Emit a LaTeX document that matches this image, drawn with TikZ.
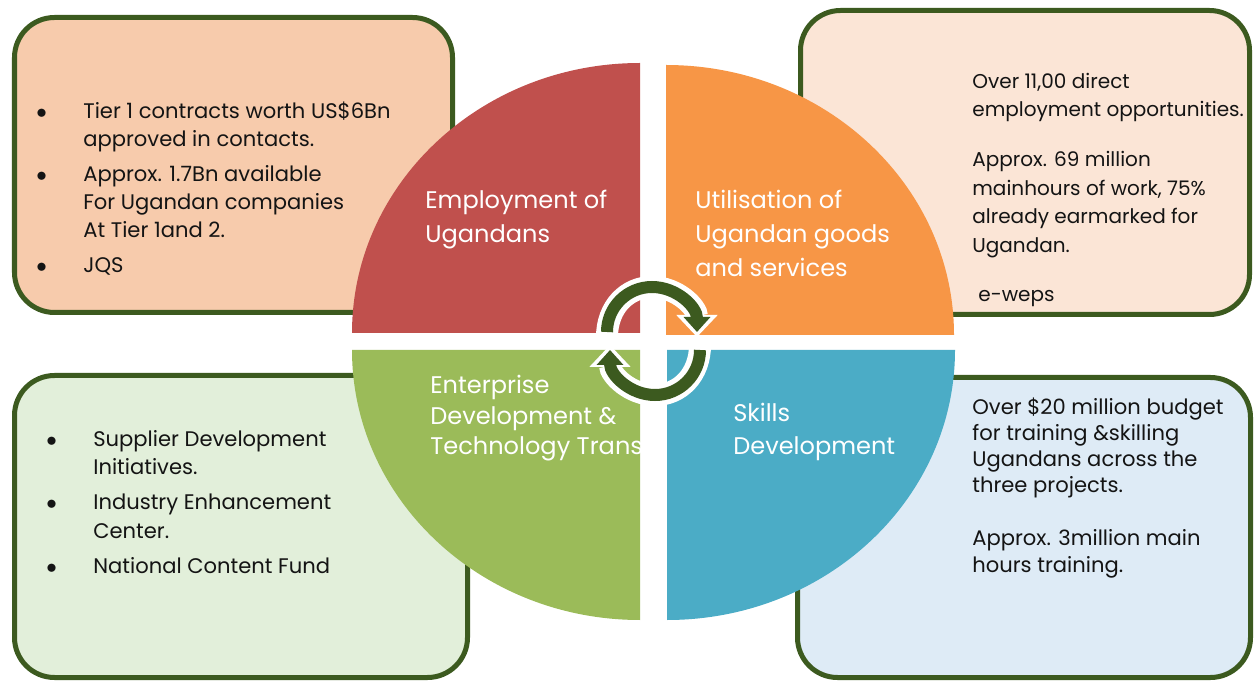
\documentclass[tikz,border=0pt]{standalone}
\usepackage{fontspec}
\setmainfont{Poppins}
\usepackage{xcolor}
\usepackage{tikz}
\usetikzlibrary{arrows.meta}
\definecolor{QuadRed}{HTML}{C0504D}
\definecolor{QuadOrange}{HTML}{F79646}
\definecolor{QuadGreen}{HTML}{9BBB59}
\definecolor{QuadBlue}{HTML}{4BACC6}
\definecolor{BoxPeach}{HTML}{F7CBAC}
\definecolor{BoxCream}{HTML}{FBE5D6}
\definecolor{BoxMint}{HTML}{E2EFDA}
\definecolor{BoxSky}{HTML}{DEEBF6}
\definecolor{FrameGreen}{HTML}{3C5A1F}
\definecolor{TextDark}{HTML}{141414}

% bullet line and its indented continuation
\newcommand{\bulitem}[1]{\makebox[0.94cm][l]{$\bullet$}#1}
\newcommand{\bulmore}[1]{\hspace*{0.94cm}#1}

\begin{document}
\begin{tikzpicture}[every node/.style={font=\fontsize{12}{15.9}\selectfont,
          text=TextDark, inner sep=0pt},
          panel/.style={draw=FrameGreen, line width=0.1cm, rounded corners=0.8cm},
          notes/.style={align=left, anchor=base west},
          quadlabel/.style={text=white, align=left, anchor=base west},
          cyc/.style={line width=0.24cm, FrameGreen,
            -{Triangle[length=0.3cm,width=0.52cm]}},
          cycrim/.style={line width=0.44cm, white,
            -{Triangle[length=0.44cm,width=0.8cm]},
            shorten >=-0.1cm, shorten <=-0.1cm}]
        \fill[white] (0,0) rectangle (25.08,-13.66);
        \useasboundingbox (0,0) rectangle (25.08,-13.66);

        % the four framed panels
        \node[panel, fill=BoxPeach, minimum width=8.76cm, minimum height=5.9cm]
        (pnlEmploy) at (4.67,-3.30) {};
        \node[panel, fill=BoxCream, minimum width=8.98cm, minimum height=6.08cm]
        (pnlGoods) at (20.50,-3.25) {};
        \node[panel, fill=BoxMint, minimum width=9.06cm, minimum height=6.04cm]
        (pnlEnterprise) at (4.82,-10.53) {};
        \node[panel, fill=BoxSky, minimum width=9.06cm, minimum height=6.0cm]
        (pnlSkills) at (20.48,-10.55) {};

        % quarter wheel
        \fill[QuadRed] (12.8,-6.66) -- ++(-5.76,0)
          arc[start angle=180, end angle=90, x radius=5.76cm, y radius=5.4cm] -- cycle;
        \fill[QuadOrange] (13.32,-6.70) -- ++(0,5.4)
          arc[start angle=90, end angle=0, x radius=5.76cm, y radius=5.4cm] -- cycle;
        \fill[QuadGreen] (12.8,-7.0) -- ++(-5.76,0)
          arc[start angle=180, end angle=270, x radius=5.76cm, y radius=5.4cm] -- cycle;
        \fill[QuadBlue] (13.34,-7.0) -- ++(5.76,0)
          arc[start angle=0, end angle=-90, x radius=5.76cm, y radius=5.4cm] -- cycle;

        % labels sit on the baseline of their last line
        \node[quadlabel, font=\fontsize{13.7}{19.9}\selectfont]
        (lblEmploy) at (8.5,-4.86) {Employment of\\Ugandans};
        \node[quadlabel, font=\fontsize{13.7}{19.6}\selectfont]
        (lblGoods) at (13.9,-5.54) {Utilisation of\\Ugandan goods\\and services};
        \begin{scope}
          \clip (12.8,-7.0) -- ++(-5.76,0)
            arc[start angle=180, end angle=270, x radius=5.76cm, y radius=5.4cm] -- cycle;
          \node[quadlabel, font=\fontsize{13.7}{17.6}\selectfont]
          (lblEnterprise) at (8.6,-9.10)
          {Enterprise\\Development \&\\Technology Transfer};
        \end{scope}
        \node[quadlabel, font=\fontsize{13.7}{18.8}\selectfont]
        (lblSkills) at (14.66,-9.10) {Skills\\Development};

        % panel texts
        \node[notes] (txtEmploy) at (0.72,-5.46)
        {\bulitem{Tier 1 contracts worth US\$6Bn}\\
          \bulmore{approved in contacts.}\\[0.15cm]
          \bulitem{Approx. 1.7Bn available}\\
          \bulmore{For Ugandan companies}\\
          \bulmore{At Tier 1and 2.}\\[0.15cm]
          \bulitem{JQS}};
        \node[notes, font=\fontsize{11.4}{16.2}\selectfont] (txtGoods) at (19.44,-6.04)
        {Over 11,00 direct\\
          employment opportunities.\\[0.43cm]
          Approx. 69 million\\
          mainhours of work, 75\%\\
          already earmarked for\\
          Ugandan.\\[0.43cm]
          \hspace*{0.12cm}e-weps};
        \node[notes, font=\fontsize{12}{16.2}\selectfont] (txtEnterprise) at (0.92,-11.46)
        {\bulitem{Supplier Development}\\
          \bulmore{Initiatives.}\\[0.13cm]
          \bulitem{Industry Enhancement}\\
          \bulmore{Center.}\\[0.13cm]
          \bulitem{National Content Fund}};
        \node[notes, font=\fontsize{12}{14.8}\selectfont] (txtSkills) at (19.44,-11.44)
        {Over \$20 million budget\\
          for training \&skilling\\
          Ugandans across the\\
          three projects.\\[0.54cm]
          Approx. 3million main\\
          hours training.};

        % cycle arrows in the hub
        \draw[cycrim] (12.14,-6.64) arc[start angle=180, end angle=0, radius=0.9cm];
        \draw[cyc] (12.14,-6.64) arc[start angle=180, end angle=0, radius=0.9cm];
        \draw[cycrim] (14.0,-7.0) arc[start angle=0, end angle=-180, radius=0.9cm];
        \draw[cyc] (14.0,-7.0) arc[start angle=0, end angle=-180, radius=0.9cm];
      \end{tikzpicture}
\end{document}
